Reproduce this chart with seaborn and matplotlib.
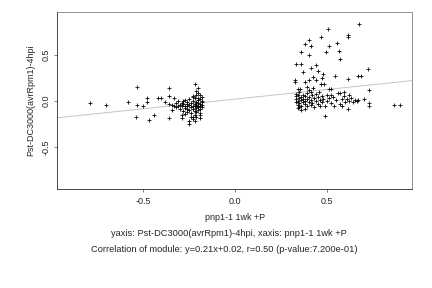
import matplotlib
matplotlib.use("Agg")
import matplotlib.pyplot as plt
import seaborn as sns
import pandas as pd

# left cluster
left_x = [-0.79, -0.70, -0.58, -0.53, -0.53, -0.50, -0.54, -0.48, -0.48, -0.47, -0.44, -0.42,
          -0.40, -0.36, -0.36, -0.36, -0.33, -0.31, -0.36, -0.34, -0.38, -0.34, -0.32, -0.30,
          -0.29, -0.29, -0.28, -0.26, -0.25, -0.23, -0.22, -0.25, -0.22, -0.20, -0.21, -0.20,
          -0.19, -0.23, -0.22, -0.27, -0.29, -0.26,
          -0.30, -0.29, -0.28, -0.27, -0.27, -0.26, -0.26, -0.25, -0.25, -0.24, -0.24, -0.24,
          -0.23, -0.23, -0.23, -0.22, -0.22, -0.22, -0.22, -0.21, -0.21, -0.21, -0.21, -0.20,
          -0.20, -0.20, -0.20, -0.20, -0.19, -0.19, -0.19, -0.19, -0.19, -0.18, -0.18, -0.18,
          -0.18, -0.18, -0.19, -0.21, -0.24, -0.27, -0.28, -0.25, -0.23, -0.20, -0.21, -0.26,
          -0.23, -0.19, -0.31, -0.32, -0.33]
left_y = [-0.02, -0.04, -0.01, 0.15, -0.04, -0.05, -0.17, 0.03, -0.01, -0.21, -0.15, 0.03,
          0.03, 0.14, 0.05, -0.18, 0.03, 0.00, -0.03, -0.04, -0.01, -0.10, -0.07, -0.09,
          -0.15, -0.19, -0.11, -0.09, -0.22, -0.17, -0.22, -0.25, 0.18, 0.14, 0.11, 0.09,
          0.06, 0.05, 0.03, 0.01, -0.02, -0.03,
          -0.04, -0.06, -0.03, -0.05, -0.08, -0.01, -0.06, -0.04, -0.10, -0.02, -0.07, -0.13,
          -0.05, -0.09, 0.00, -0.03, -0.06, -0.11, -0.15, -0.01, -0.04, -0.08, -0.12, -0.02,
          -0.05, -0.07, -0.10, 0.01, -0.03, -0.06, -0.09, 0.02, -0.13, -0.01, -0.04, -0.07,
          0.00, 0.04, -0.18, -0.17, -0.17, -0.14, 0.00, 0.02, 0.04, 0.03, 0.06, -0.12,
          -0.20, -0.15, -0.05, -0.02, -0.06]

# right cluster
right_x = [0.674, 0.505, 0.614, 0.614, 0.467, 0.402, 0.380, 0.413, 0.511, 0.554, 0.359, 0.402,
           0.495, 0.565, 0.571, 0.332, 0.359, 0.370, 0.413, 0.440, 0.451, 0.478, 0.723, 0.543,
           0.614, 0.668, 0.685, 0.326, 0.326, 0.380, 0.402, 0.424, 0.440, 0.473, 0.467, 0.484,
           0.391, 0.353, 0.342, 0.424, 0.457, 0.511, 0.522, 0.571, 0.592, 0.728, 0.701, 0.728,
           0.728, 0.864, 0.897, 0.489, 0.614,
           0.33, 0.33, 0.33, 0.33, 0.34, 0.34, 0.34, 0.35, 0.35, 0.35, 0.36, 0.36,
           0.36, 0.37, 0.37, 0.37, 0.38, 0.38, 0.38, 0.39, 0.39, 0.39, 0.40, 0.40,
           0.41, 0.41, 0.42, 0.42, 0.43, 0.43, 0.44, 0.45, 0.45, 0.46, 0.47, 0.47,
           0.48, 0.49, 0.50, 0.50, 0.51, 0.52, 0.53, 0.54, 0.55, 0.56, 0.57, 0.58,
           0.59, 0.60, 0.61, 0.62, 0.63, 0.64, 0.65, 0.66, 0.67, 0.34, 0.36, 0.38,
           0.41, 0.44, 0.52, 0.58, 0.46, 0.40, 0.35, 0.62]
right_y = [0.837, 0.783, 0.717, 0.696, 0.696, 0.663, 0.620, 0.598, 0.598, 0.630, 0.533, 0.500,
           0.533, 0.543, 0.457, 0.402, 0.402, 0.315, 0.359, 0.391, 0.326, 0.293, 0.348, 0.272,
           0.239, 0.272, 0.272, 0.228, 0.207, 0.207, 0.228, 0.261, 0.228, 0.250, 0.185, 0.185,
           0.152, 0.130, 0.130, 0.141, 0.098, 0.130, 0.130, 0.087, 0.098, 0.120, 0.022, -0.022,
           -0.054, -0.043, -0.043, -0.163, -0.087,
           0.08, 0.05, 0.02, -0.01, -0.04, 0.00, 0.06, 0.03, -0.02, -0.07, 0.01, 0.04,
           -0.05, 0.07, -0.01, 0.02, 0.05, -0.03, 0.00, 0.09, 0.02, -0.06, 0.04, -0.01,
           0.01, -0.04, 0.06, -0.02, 0.03, -0.07, 0.00, 0.04, -0.03, 0.01, -0.01, 0.05,
           0.02, -0.05, 0.00, 0.07, 0.03, -0.02, 0.04, -0.06, 0.01, 0.09, -0.03, 0.02,
           0.05, -0.01, 0.02, 0.00, 0.03, -0.01, 0.01, 0.00, 0.01, -0.08, -0.10, -0.09,
           0.10, 0.08, 0.06, -0.05, -0.06, 0.12, 0.10, 0.06]

slope = 0.21
intercept = 0.02
xlabel = "pnp1-1 1wk +P"
ylabel = "Pst-DC3000(avrRpm1)-4hpi"
caption1 = "yaxis: Pst-DC3000(avrRpm1)-4hpi, xaxis: pnp1-1 1wk +P"
caption2 = "Correlation of module: y=0.21x+0.02, r=0.50 (p-value:7.200e-01)"

df = pd.DataFrame({"x": left_x + right_x, "y": left_y + right_y})

sns.set_style("white")
plt.rcParams["font.family"] = ["Liberation Sans", "DejaVu Sans"]

fig = plt.figure(figsize=(6, 4), dpi=72)
ax = fig.add_axes([0.132, 0.344, 0.822, 0.614])

ax.axline((0, intercept), slope=slope, color="#c0c0c0", lw=0.9, zorder=1)
sns.scatterplot(data=df, x="x", y="y", marker="+", color="black", s=20,
                linewidth=0.8, ax=ax, zorder=2)

ax.set_xlim(-0.967, 0.962)
ax.set_ylim(-0.957, 0.967)
ax.set_xticks([-0.5, 0.0, 0.5])
ax.set_yticks([-0.5, 0.0, 0.5])
ax.set_xticklabels(["-0.5", "0.0", "0.5"])
ax.set_yticklabels(["-0.5", "0.0", "0.5"], rotation=90, va="center")
ax.tick_params(axis="both", labelsize=9, length=3, width=0.6, color="#333333",
               direction="out", bottom=True, left=True)
ax.tick_params(axis="x", pad=5)
ax.tick_params(axis="y", pad=3)
ax.set_xlabel(xlabel, fontsize=9)
ax.set_ylabel(ylabel, fontsize=9)
ax.xaxis.set_label_coords(0.5, -0.135)
ax.yaxis.set_label_coords(-0.062, 0.5)
for side in ["top", "right"]:
    ax.spines[side].set_color("#777777")
for side in ["bottom", "left"]:
    ax.spines[side].set_color("#222222")
for sp in ax.spines.values():
    sp.set_linewidth(0.8)

fig.text(0.53, 1 - 233 / 288, caption1, ha="center", va="center", fontsize=9.2)
fig.text(0.52, 1 - 250 / 288, caption2, ha="center", va="center", fontsize=9.2)

fig.savefig("out.png", dpi=72)
